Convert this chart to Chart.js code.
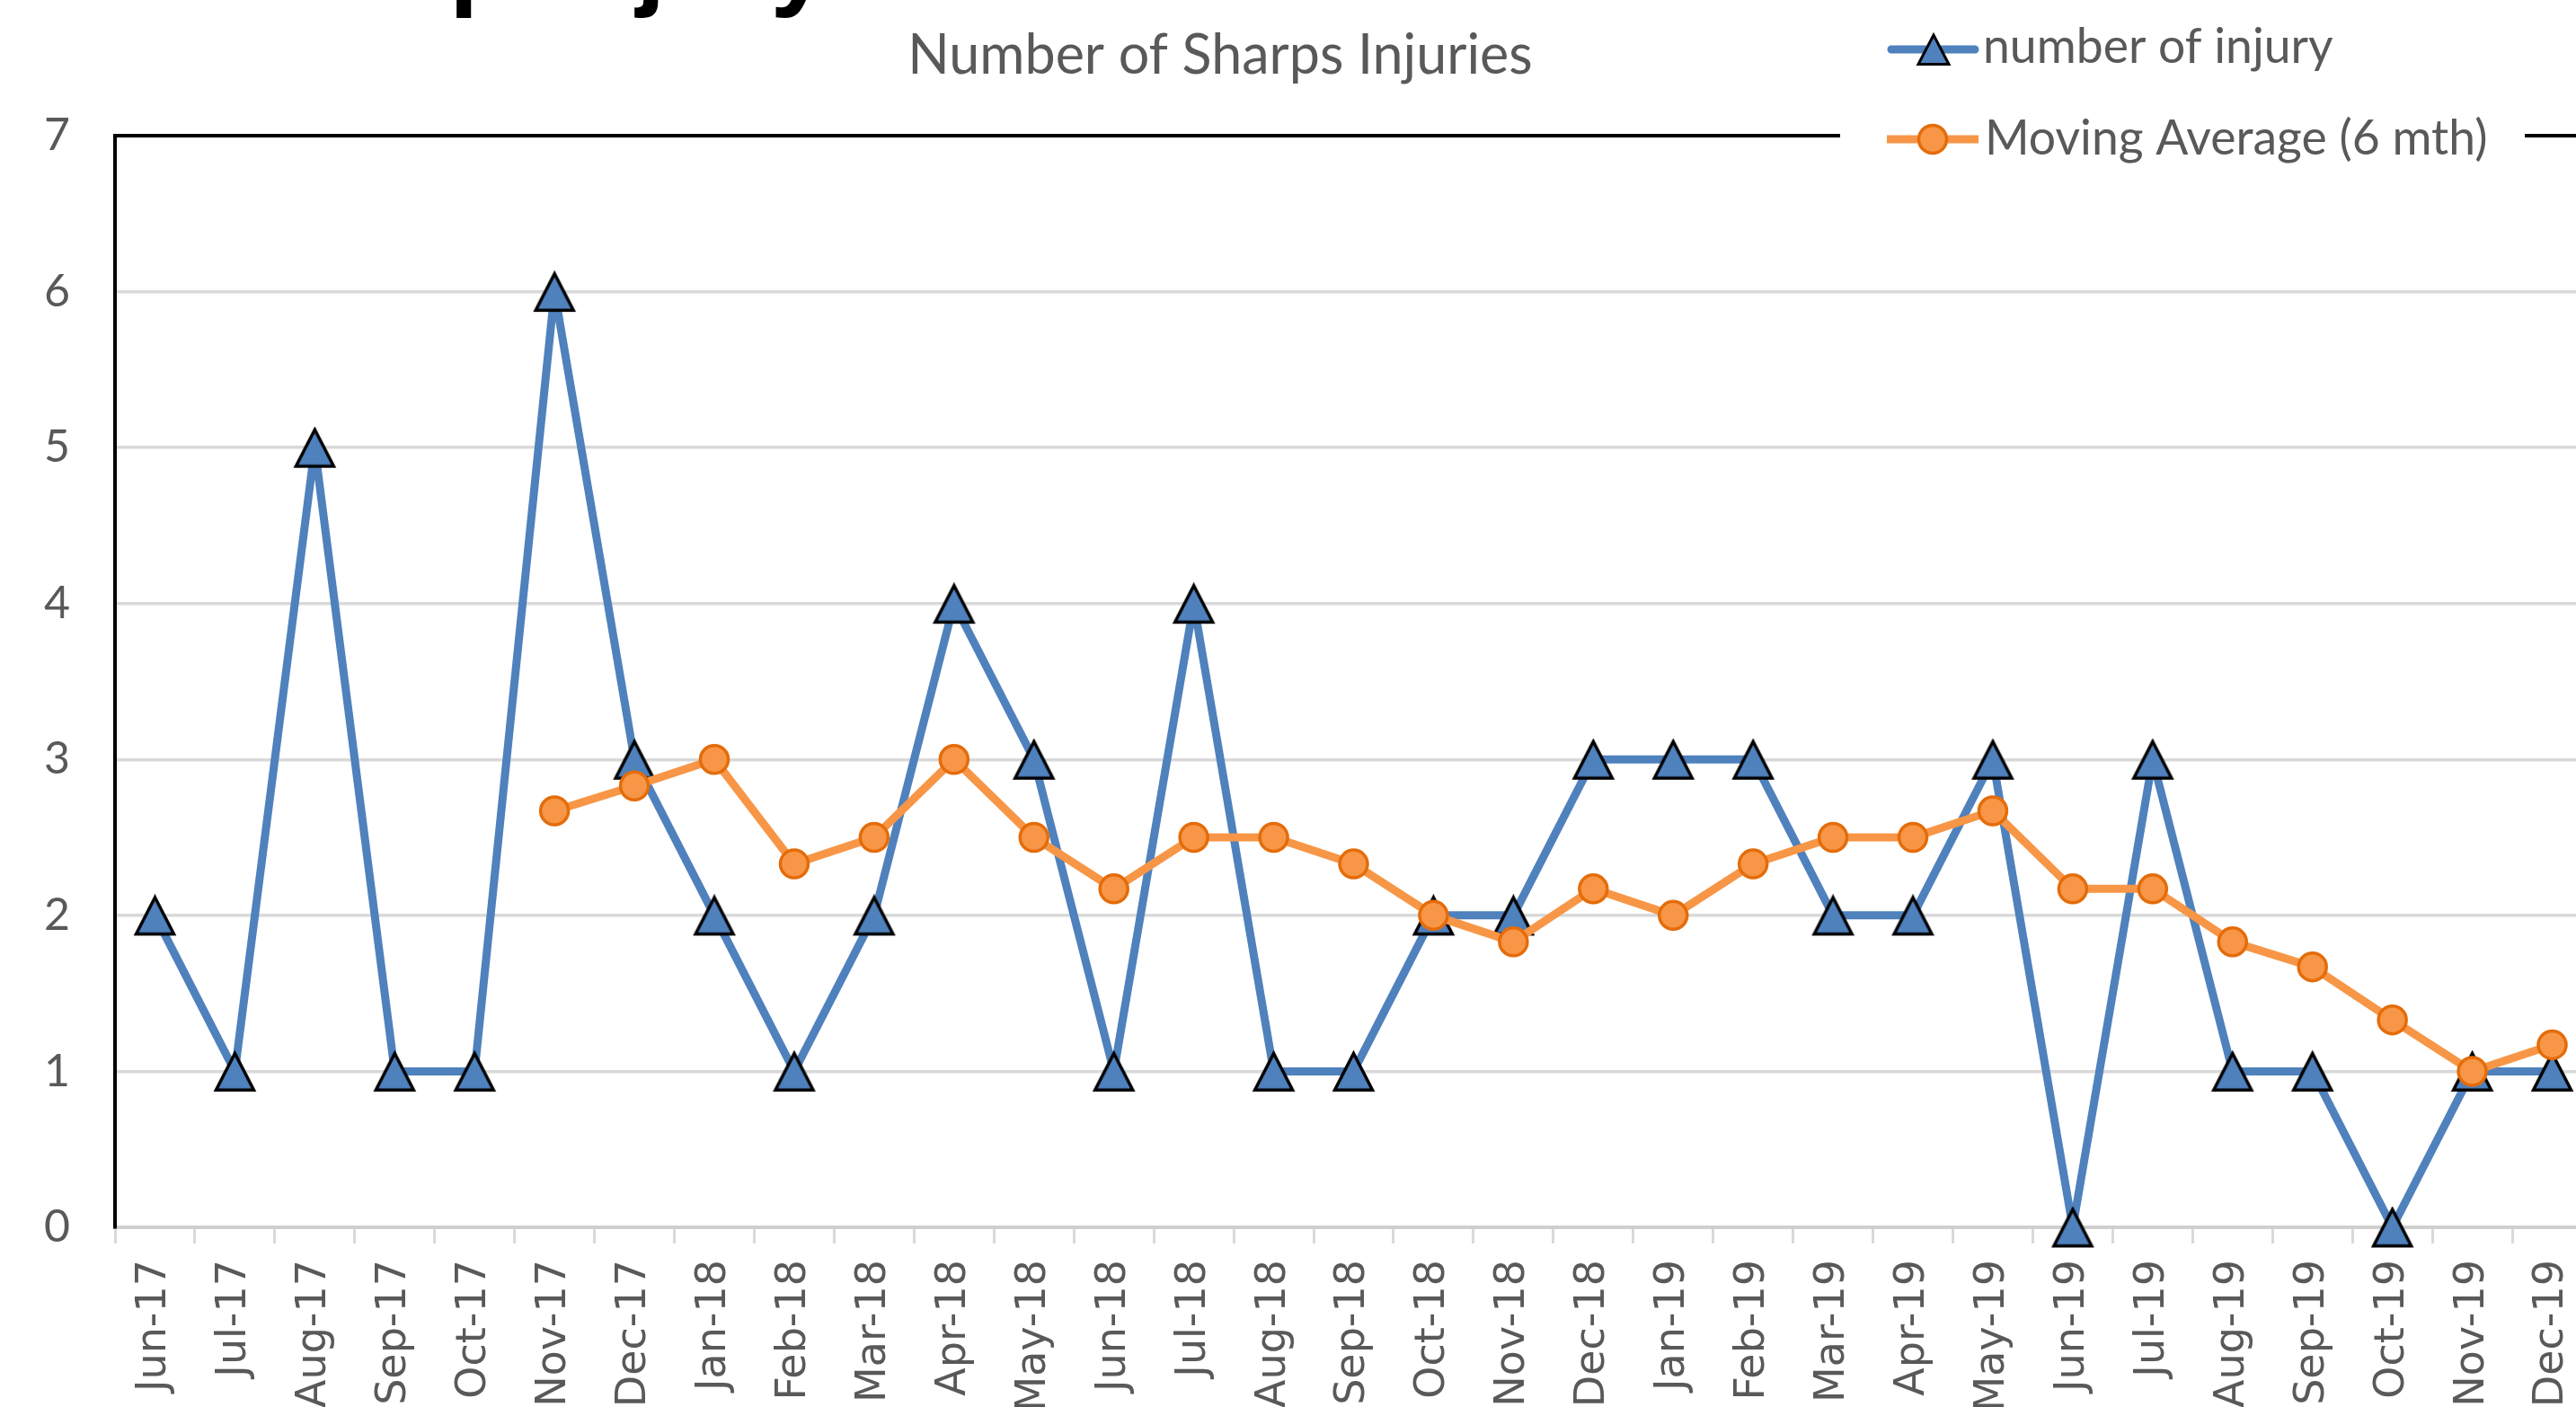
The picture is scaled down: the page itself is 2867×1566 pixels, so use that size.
<!DOCTYPE html>
<html>
<head>
<meta charset="utf-8">
<title>Number of Sharps Injuries</title>
<script src="https://cdn.jsdelivr.net/npm/chart.js@4.4.1/dist/chart.umd.min.js"></script>
<style>
    html, body { margin: 0; padding: 0; background: #fff; overflow: hidden; }
    #wrap { position: absolute; left: 0; top: 0; width: 2960px; height: 1620px; }
</style>
</head>
<body>
<div id="wrap"><canvas id="sharpsChart" width="2960" height="1620"></canvas></div>
<script>
var months = ["Jun-17", "Jul-17", "Aug-17", "Sep-17", "Oct-17", "Nov-17", "Dec-17",
    "Jan-18", "Feb-18", "Mar-18", "Apr-18", "May-18", "Jun-18", "Jul-18", "Aug-18",
    "Sep-18", "Oct-18", "Nov-18", "Dec-18", "Jan-19", "Feb-19", "Mar-19", "Apr-19",
    "May-19", "Jun-19", "Jul-19", "Aug-19", "Sep-19", "Oct-19", "Nov-19", "Dec-19"];
var injuries = [2, 1, 5, 1, 1, 6, 3, 2, 1, 2, 4, 3, 1, 4, 1, 1, 2, 2, 3, 3, 3, 2, 2, 3, 0, 3, 1, 1, 0, 1, 1];
var movingAvg = [null, null, null, null, null, 2.67, 2.83, 3.0, 2.33, 2.5, 3.0, 2.5, 2.17, 2.5, 2.5,
    2.33, 2.0, 1.83, 2.17, 2.0, 2.33, 2.5, 2.5, 2.67, 2.17, 2.17, 1.83, 1.67, 1.33, 1.0, 1.17];
var yTicks = [0, 1, 2, 3, 4, 5, 6, 7];

var chartTitle = "Number of Sharps Injuries";
var pageTitle = "Sharp Injury";
var seriesNames = ["number of injury", "Moving Average (6 mth)"];

var BLUE = "#4f81bd", ORANGE = "#f79646", ORANGE_EDGE = "#e46c0a", GREY_TEXT = "#595959";

// excel style triangle marker, centred on its box
function makeTriangle(w, h, lw) {
    var c = document.createElement("canvas");
    c.width = w; c.height = h;
    var g = c.getContext("2d");
    g.beginPath();
    g.moveTo(w / 2, lw);
    g.lineTo(w - lw, h - lw / 2 - 1);
    g.lineTo(lw, h - lw / 2 - 1);
    g.closePath();
    g.fillStyle = BLUE;
    g.fill();
    g.lineWidth = lw;
    g.lineJoin = "miter";
    g.strokeStyle = "#000";
    g.stroke();
    return c;
}

var triMarker = makeTriangle(49, 47, 3.5);
var triLegend = makeTriangle(40, 38, 3);

var decorPlugin = {
    id: "decor",
    afterDraw: function (chart) {
        var ctx = chart.ctx;
        ctx.save();

        // page heading, only the bottom of it shows
        ctx.fillStyle = "#000";
        ctx.font = "bold 117px 'Liberation Sans'";
        ctx.textBaseline = "alphabetic";
        ctx.textAlign = "left";
        ctx.fillText(pageTitle, 500 - ctx.measureText("Shar").width, -4);

        // chart title
        ctx.fillStyle = GREY_TEXT;
        ctx.font = "61px Lato";
        ctx.textAlign = "center";
        ctx.fillText(chartTitle, 1358, 82);

        // legend box sits over the plot border
        ctx.fillStyle = "#fff";
        ctx.fillRect(2048, 10, 762, 190);

        ctx.lineWidth = 9;
        ctx.lineCap = "round";
        ctx.strokeStyle = BLUE;
        ctx.beginPath();
        ctx.moveTo(2105, 55);
        ctx.lineTo(2198, 55);
        ctx.stroke();
        ctx.drawImage(triLegend, 2152 - triLegend.width / 2, 55 - triLegend.height / 2);

        ctx.lineCap = "butt";
        ctx.strokeStyle = ORANGE;
        ctx.beginPath();
        ctx.moveTo(2100, 155);
        ctx.lineTo(2202, 155);
        ctx.stroke();
        ctx.beginPath();
        ctx.arc(2151, 155, 15.5, 0, Math.PI * 2);
        ctx.fillStyle = ORANGE;
        ctx.fill();
        ctx.lineWidth = 3.5;
        ctx.strokeStyle = ORANGE_EDGE;
        ctx.stroke();

        ctx.fillStyle = GREY_TEXT;
        ctx.font = "53.5px Lato";
        ctx.textAlign = "left";
        ctx.fillText(seriesNames[0], 2207, 70);
        ctx.fillText(seriesNames[1], 2209, 172);
        ctx.restore();
    }
};

document.addEventListener('DOMContentLoaded', function () {
    makeSharpsChart();
});

function makeSharpsChart() {
    var canvas = document.getElementById("sharpsChart");
    new Chart(canvas, {
        type: 'line',
        data: {
            labels: months,
            datasets: [
                {
                    label: seriesNames[0],
                    data: injuries,
                    borderColor: BLUE,
                    backgroundColor: BLUE,
                    borderWidth: 9,
                    borderJoinStyle: 'round',
                    borderCapStyle: 'round',
                    pointStyle: triMarker,
                    pointRadius: 23,
                    tension: 0,
                    fill: false,
                    clip: false,
                    order: 2
                },
                {
                    label: seriesNames[1],
                    data: movingAvg,
                    borderColor: ORANGE,
                    backgroundColor: ORANGE,
                    borderWidth: 9,
                    borderJoinStyle: 'round',
                    pointStyle: 'circle',
                    pointRadius: 15.5,
                    pointBorderWidth: 3.5,
                    pointBorderColor: ORANGE_EDGE,
                    pointBackgroundColor: ORANGE,
                    tension: 0,
                    fill: false,
                    clip: false,
                    order: 1
                }
            ]
        },
        options: {
            responsive: false,
            animation: false,
            layout: { padding: { top: 151, right: 75, left: 0, bottom: 0 } },
            plugins: {
                legend: { display: false },
                title: { display: false },
                tooltip: { enabled: false }
            },
            scales: {
                x: {
                    offset: true,
                    grid: {
                        offset: true,
                        drawOnChartArea: false,
                        drawTicks: true,
                        tickLength: 18,
                        color: '#d9d9d9',
                        lineWidth: 3
                    },
                    border: { display: true, color: '#cfcfcf', width: 4 },
                    ticks: {
                        autoSkip: false,
                        maxRotation: 90,
                        minRotation: 90,
                        padding: 18,
                        color: GREY_TEXT,
                        font: { family: 'DejaVu Sans', size: 46 }
                    },
                    afterFit: function (scale) { scale.height = 254; }
                },
                y: {
                    min: 0,
                    max: 7,
                    afterBuildTicks: function (scale) {
                        scale.ticks = yTicks.map(function (v) { return { value: v }; });
                    },
                    grid: {
                        drawTicks: false,
                        color: function (c) { return c.tick && c.tick.value === 7 ? '#000' : '#d9d9d9'; },
                        lineWidth: function (c) { return c.tick && c.tick.value === 7 ? 4 : 3.5; }
                    },
                    border: { display: true, color: '#000', width: 4 },
                    ticks: {
                        padding: 50,
                        color: GREY_TEXT,
                        font: { family: 'Lato', size: 50 }
                    },
                    afterFit: function (scale) { scale.width = 128; }
                }
            }
        },
        plugins: [decorPlugin]
    });
}
</script>
</body>
</html>
